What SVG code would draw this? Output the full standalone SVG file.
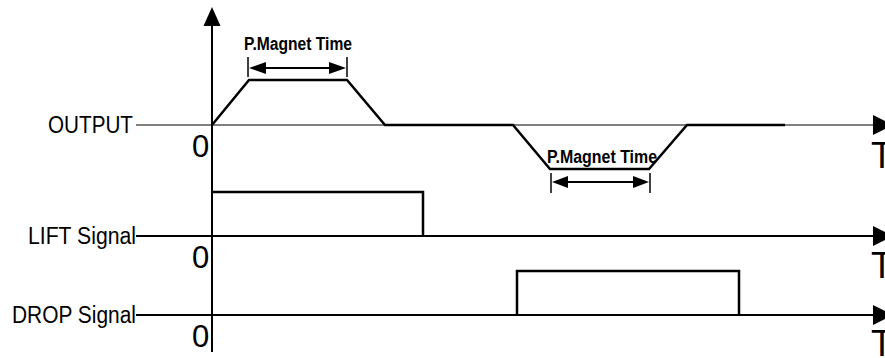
<svg xmlns="http://www.w3.org/2000/svg" width="885" height="358" viewBox="0 0 885 358">
<defs>
<style>
.lbl{font-family:"Liberation Sans",Arial,sans-serif;font-size:23px;fill:#000}
.zero{font-family:"Liberation Sans",Arial,sans-serif;font-size:31px;fill:#000}
.tl{font-family:"Liberation Sans",Arial,sans-serif;font-size:36px;fill:#000}
.dim{font-family:"Liberation Sans",Arial,sans-serif;font-size:18px;font-weight:bold;fill:#000}
.ax{stroke:#000;fill:none}
.sig{stroke:#000;fill:none;stroke-width:2.5;stroke-linejoin:miter}
.head{fill:#000;stroke:none}
</style>
</defs>
<rect width="885" height="358" fill="#fff"/>

<g id="y-axis">
<line class="ax" x1="212" y1="24" x2="212" y2="352" stroke-width="2"/>
<polygon class="head" points="212,7 203.5,26 220.5,26"/>
</g>

<g id="output">
<text class="lbl" x="48" y="133" textLength="85" lengthAdjust="spacingAndGlyphs">OUTPUT</text>
<line class="ax" x1="136" y1="125" x2="874" y2="125" stroke-width="1.2"/>
<polygon class="head" points="873,115 873,135 893,125"/>
<text class="zero" x="192" y="157">0</text>
<text class="tl" x="871" y="168">T</text>
<polyline class="sig" stroke-width="2" points="212,125 249,80 347,80 385,125 513,125 550,169 649,169 687,125 785,125"/>
</g>

<g id="lift">
<text class="lbl" x="28" y="244" textLength="108" lengthAdjust="spacingAndGlyphs">LIFT Signal</text>
<line class="ax" x1="136" y1="236" x2="874" y2="236" stroke-width="2"/>
<polygon class="head" points="873,226 873,246 893,236"/>
<text class="zero" x="192" y="268">0</text>
<text class="tl" x="871" y="278">T</text>
<polyline class="sig" points="211,192 423,192 423,236"/>
</g>

<g id="drop">
<text class="lbl" x="12" y="323" textLength="124" lengthAdjust="spacingAndGlyphs">DROP Signal</text>
<line class="ax" x1="136" y1="315" x2="874" y2="315" stroke-width="2"/>
<polygon class="head" points="873,305 873,325 893,315"/>
<text class="zero" x="192" y="347">0</text>
<text class="tl" x="871" y="356">T</text>
<polyline class="sig" points="517,315 517,271 739,271 739,315"/>
</g>

<g id="dim-top">
<text class="dim" x="244" y="50" textLength="108" lengthAdjust="spacingAndGlyphs">P.Magnet Time</text>
</g>
<g id="dim-bottom">
<text class="dim" x="547" y="163" textLength="110" lengthAdjust="spacingAndGlyphs">P.Magnet Time</text>
</g>

<g id="connectors">
<line class="ax" x1="248" y1="57" x2="248" y2="77" stroke-width="1.5"/>
<line class="ax" x1="347" y1="57" x2="347" y2="77" stroke-width="1.5"/>
<line class="ax" x1="262" y1="68" x2="333" y2="68" stroke-width="2"/>
<polygon class="head" points="249,68 266,62 266,74"/>
<polygon class="head" points="346,68 329,62 329,74"/>
<line class="ax" x1="551" y1="173" x2="551" y2="193" stroke-width="1.5"/>
<line class="ax" x1="650" y1="173" x2="650" y2="193" stroke-width="1.5"/>
<line class="ax" x1="565" y1="182" x2="636" y2="182" stroke-width="2"/>
<polygon class="head" points="552,182 568,176 568,188"/>
<polygon class="head" points="649,182 633,176 633,188"/>
</g>
</svg>
